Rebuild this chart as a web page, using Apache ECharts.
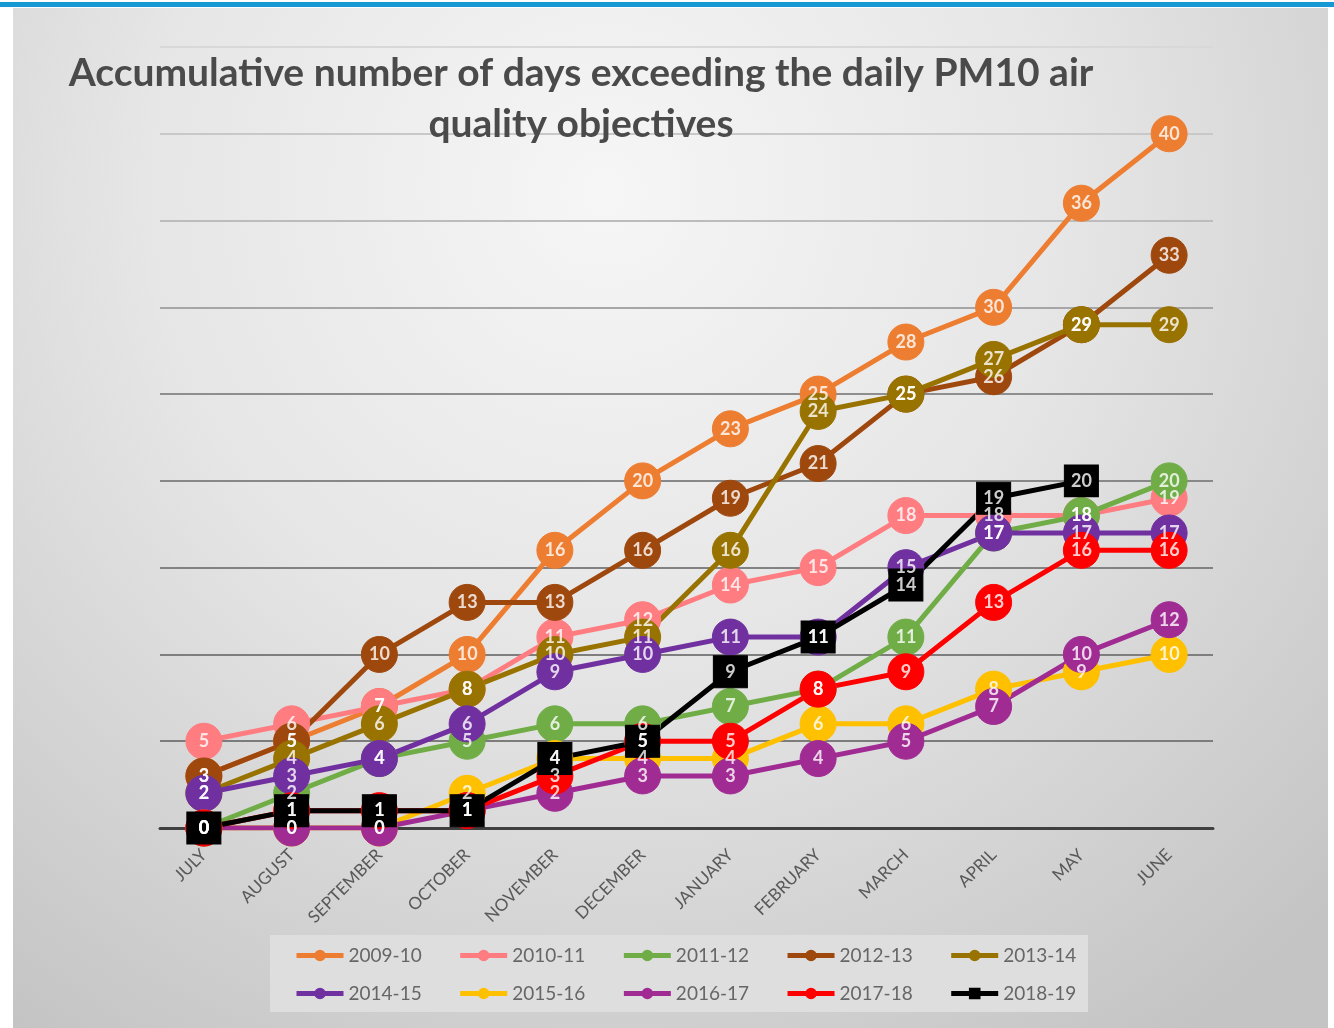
<!DOCTYPE html>
<html>
<head>
<meta charset="utf-8">
<title>PM10 exceedance days</title>
<script src="https://cdn.jsdelivr.net/npm/echarts@6/dist/echarts.min.js"></script>
<style>
    html, body { margin: 0; padding: 0; background: #fff; }
    #chart { width: 1334px; height: 1028px; }
</style>
</head>
<body>
<div id="chart"></div>
<script>
'use strict';

// month categories (financial year, July to June)
var months = ['JULY', 'AUGUST', 'SEPTEMBER', 'OCTOBER', 'NOVEMBER', 'DECEMBER',
    'JANUARY', 'FEBRUARY', 'MARCH', 'APRIL', 'MAY', 'JUNE'];

// accumulative days per year
var years = ['2009-10', '2010-11', '2011-12', '2012-13', '2013-14',
    '2014-15', '2015-16', '2016-17', '2017-18', '2018-19'];
var days2009 = [3, 5, 7, 10, 16, 20, 23, 25, 28, 30, 36, 40];
var days2010 = [5, 6, 7, 8, 11, 12, 14, 15, 18, 18, 18, 19];
var days2011 = [0, 2, 4, 5, 6, 6, 7, 8, 11, 17, 18, 20];
var days2012 = [3, 5, 10, 13, 13, 16, 19, 21, 25, 26, 29, 33];
var days2013 = [2, 4, 6, 8, 10, 11, 16, 24, 25, 27, 29, 29];
var days2014 = [2, 3, 4, 6, 9, 10, 11, 11, 15, 17, 17, 17];
var days2015 = [0, 0, 0, 2, 4, 4, 4, 6, 6, 8, 9, 10];
var days2016 = [0, 0, 0, 1, 2, 3, 3, 4, 5, 7, 10, 12];
var days2017 = [0, 1, 1, 1, 3, 5, 5, 8, 9, 13, 16, 16];
var days2018 = [0, 1, 1, 1, 4, 5, 9, 11, 14, 19, 20, null];

var yearData = [days2009, days2010, days2011, days2012, days2013,
    days2014, days2015, days2016, days2017, days2018];
var colors = ['#ED7D31', '#FF7C80', '#70AD47', '#9E480E', '#997300',
    '#7030A0', '#FFC000', '#A02B93', '#FF0000', '#000000'];

var FONT = 'Lato';
var chart = echarts.init(document.getElementById('chart'));

var series = [];

// lines + markers
years.forEach(function (name, i) {
    var isLast = i === years.length - 1;
    series.push({
        name: name,
        type: 'line',
        data: yearData[i],
        z: 2,
        symbol: isLast ? 'rect' : 'circle',
        symbolSize: isLast ? [34, 32] : 36,
        showAllSymbol: true,
        connectNulls: false,
        lineStyle: { color: colors[i], width: 5 },
        itemStyle: { color: colors[i], borderColor: colors[i], borderWidth: 1 },
        label: { show: false }
    });
});

// data labels sit above every series, like in excel
years.forEach(function (name, i) {
    series.push({
        name: name + ' label',
        type: 'scatter',
        data: yearData[i],
        z: 10,
        silent: true,
        symbolSize: 1,
        itemStyle: { color: 'rgba(0,0,0,0)' },
        label: {
            show: true,
            position: 'inside',
            color: '#fff',
            fontFamily: FONT,
            fontWeight: 'bold',
            fontSize: 18
        }
    });
});

var legendBase = {
    padding: 0,
    itemWidth: 47,
    itemHeight: 12,
    itemGap: 36,
    lineStyle: { width: 5 },
    textStyle: { color: '#666666', fontFamily: FONT, fontSize: 19, width: 74 }
};

chart.setOption({
    animation: false,
    textStyle: { fontFamily: FONT },
    title: {
        text: 'Accumulative number of days exceeding the daily PM10 air\nquality objectives',
        left: 576,
        top: 43,
        textAlign: 'center',
        textStyle: {
            color: '#4a4a4a',
            fontFamily: FONT,
            fontWeight: 'bold',
            fontSize: 39,
            lineHeight: 51
        }
    },
    graphic: [
        {
            type: 'rect',
            z: -10,
            shape: { x: 13, y: 8, width: 1315, height: 1020 },
            style: {
                fill: new echarts.graphic.RadialGradient(0.45, 0.18, 1.0, [
                    { offset: 0, color: '#f6f6f6' },
                    { offset: 0.45, color: '#e6e6e6' },
                    { offset: 1, color: '#c4c4c4' }
                ])
            }
        },
        {
            type: 'rect',
            z: -5,
            shape: { x: 0, y: 2, width: 1334, height: 5 },
            style: { fill: '#1598D3' }
        },
        {
            type: 'rect',
            z: 0,
            shape: { x: 270, y: 935, width: 818, height: 77 },
            style: { fill: '#dedede' }
        }
    ],
    legend: [
        echarts.util.extend({ data: years.slice(0, 5), left: 294, top: 946 }, legendBase),
        echarts.util.extend({ data: years.slice(5), left: 294, top: 984 }, legendBase)
    ],
    grid: { left: 160, right: 121, top: 47, bottom: 200 },
    xAxis: {
        type: 'category',
        data: months,
        boundaryGap: true,
        axisTick: { show: false },
        axisLine: { lineStyle: { color: '#404040', width: 3 } },
        axisLabel: {
            rotate: 45,
            margin: 24,
            color: '#595959',
            fontFamily: FONT,
            fontSize: 17
        },
        z: 1
    },
    yAxis: {
        type: 'value',
        min: 0,
        max: 45,
        interval: 5,
        axisLabel: { show: false },
        axisLine: { show: false },
        axisTick: { show: false },
        splitLine: {
            lineStyle: {
                width: 2,
                color: ['#7a7a7a', '#7c7c7c', '#7e7e7e', '#828282', '#888888',
                    '#8e8e8e', '#a6a6a6', '#bcbcbc', '#c8c8c8', '#d8d8d8']
            }
        }
    },
    series: series
});
</script>
</body>
</html>
